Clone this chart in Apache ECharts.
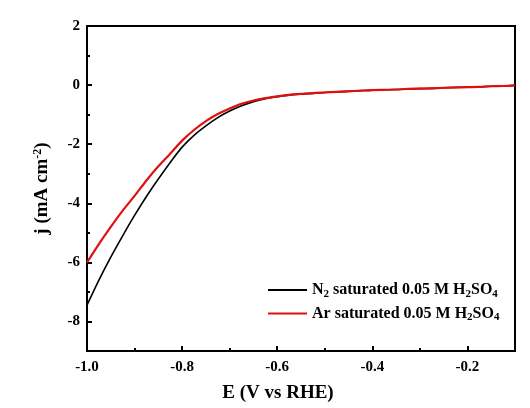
<!DOCTYPE html>
<html><head><meta charset="utf-8">
<script src="https://cdn.jsdelivr.net/npm/echarts@6/dist/echarts.min.js"></script>
<style>html,body{margin:0;padding:0;background:#fff}#c{width:530px;height:408px}</style>
</head><body><div id="c"></div>
<script>
const potential = [-1.000,-0.975,-0.950,-0.925,-0.900,-0.875,-0.850,-0.825,-0.800,-0.775,-0.750,-0.725,-0.700,-0.675,-0.650,-0.625,-0.600,-0.575,-0.550,-0.525,-0.500,-0.475,-0.450,-0.425,-0.400,-0.375,-0.350,-0.325,-0.300,-0.275,-0.250,-0.225,-0.200,-0.175,-0.150,-0.125,-0.100];
const n2Current = [-7.45,-6.60,-5.82,-5.10,-4.41,-3.77,-3.18,-2.62,-2.10,-1.70,-1.38,-1.10,-0.88,-0.70,-0.56,-0.46,-0.39,-0.34,-0.30,-0.28,-0.25,-0.23,-0.21,-0.19,-0.17,-0.16,-0.15,-0.13,-0.12,-0.11,-0.09,-0.08,-0.07,-0.06,-0.04,-0.03,-0.01];
const arCurrent = [-6.00,-5.38,-4.80,-4.25,-3.75,-3.23,-2.75,-2.32,-1.88,-1.52,-1.22,-0.98,-0.79,-0.63,-0.52,-0.44,-0.38,-0.33,-0.30,-0.27,-0.25,-0.23,-0.21,-0.19,-0.17,-0.16,-0.15,-0.13,-0.12,-0.11,-0.09,-0.08,-0.07,-0.06,-0.04,-0.03,-0.01];
const yMajorTicks = [-8,-6,-4,-2,0,2];
const yMinorTicks = [-9,-7,-5,-3,-1,1];
const seriesNames = ['N2 saturated 0.05 M H2SO4','Ar saturated 0.05 M H2SO4'];

const font = 'Liberation Serif';
const chart = echarts.init(document.getElementById('c'));
const sub = {fontFamily:font,fontWeight:'bold',fontSize:11,color:'#000',padding:[8,0,0,0]};
const base = {fontFamily:font,fontWeight:'bold',fontSize:16,color:'#000'};
chart.setOption({
  animation:false,
  backgroundColor:'#fff',
  grid:{left:87,right:15,top:26,bottom:55,show:true,borderColor:'#000',borderWidth:2,backgroundColor:'transparent'},
  legend:{
    orient:'vertical',left:263,top:277,itemWidth:39,itemHeight:2,itemGap:6,icon:'rect',
    data:seriesNames,
    textStyle:{fontFamily:font,fontWeight:'bold',fontSize:16,color:'#000',rich:{b:base,s:sub}},
    formatter:function(n){
      return n.indexOf('N2')===0 ? '{b|N}{s|2}{b| saturated 0.05 M H}{s|2}{b|SO}{s|4}' : '{b|Ar saturated 0.05 M H}{s|2}{b|SO}{s|4}';
    }
  },
  xAxis:{
    type:'value',min:-1.0,max:-0.1,interval:0.2,
    name:'E (V vs RHE)',nameLocation:'middle',nameGap:33,
    nameTextStyle:{fontFamily:font,fontWeight:'bold',fontSize:19,color:'#000',padding:[0,46,0,0]},
    axisLine:{onZero:false,lineStyle:{color:'#000',width:2}},
    axisTick:{inside:true,length:5,lineStyle:{color:'#000',width:2}},
    minorTick:{show:true,splitNumber:2,length:3,lineStyle:{color:'#000',width:2}},
    axisLabel:{margin:9,showMaxLabel:false,fontFamily:font,fontWeight:'bold',fontSize:15,color:'#000',formatter:v=>v.toFixed(1)},
    splitLine:{show:false}
  },
  yAxis:[{
    type:'value',min:-9,max:2,interval:1,
    name:'{b|j (mA cm}{p|-2}{b|)}',nameLocation:'middle',nameGap:34,
    nameTextStyle:{fontFamily:font,fontWeight:'bold',fontSize:19,color:'#000',rich:{b:{fontFamily:font,fontWeight:'bold',fontSize:19,color:'#000'},p:{fontFamily:font,fontWeight:'bold',fontSize:12,color:'#000',padding:[0,0,9,0]}}},
    axisLine:{onZero:false,lineStyle:{color:'#000',width:2}},
    axisTick:{inside:true,length:5,customValues:yMajorTicks,lineStyle:{color:'#000',width:2}},
    axisLabel:{margin:7,customValues:yMajorTicks,fontFamily:font,fontWeight:'bold',fontSize:15,color:'#000'},
    splitLine:{show:false}
  },{
    type:'value',min:-9,max:2,interval:1,position:'left',
    axisLine:{show:false},
    axisTick:{inside:true,length:3,customValues:yMinorTicks,lineStyle:{color:'#000',width:2}},
    axisLabel:{show:false},splitLine:{show:false}
  }],
  series:[
    {name:seriesNames[0],type:'line',symbol:'none',color:'#000',lineStyle:{color:'#000',width:1.6},data:potential.map((x,i)=>[x,n2Current[i]]),smooth:0.3},
    {name:seriesNames[1],type:'line',symbol:'none',color:'#e01010',lineStyle:{color:'#e01010',width:2.2},data:potential.map((x,i)=>[x,arCurrent[i]]),smooth:0.3}
  ]
});
</script></body></html>
